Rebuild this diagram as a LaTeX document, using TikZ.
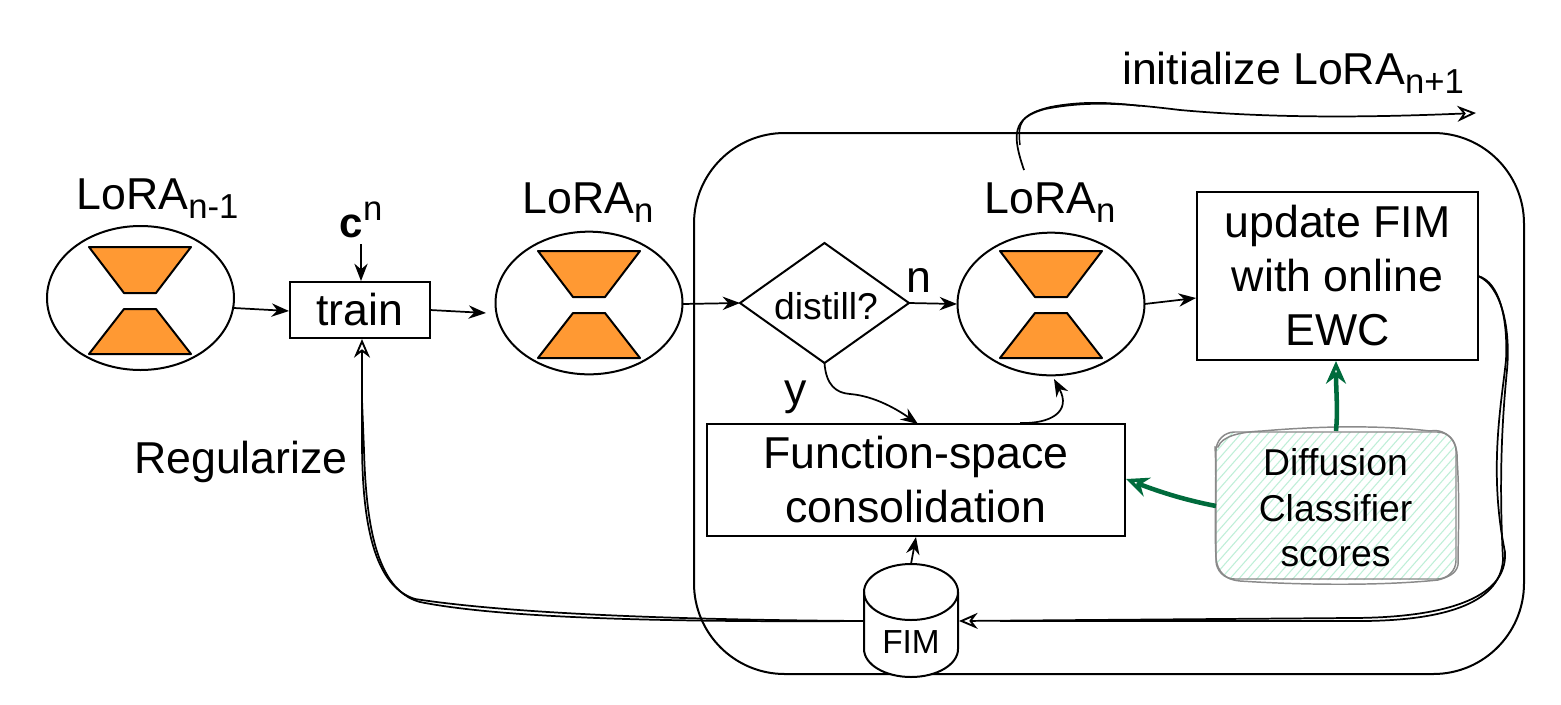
\documentclass[tikz,border=0pt]{standalone}
\usepackage{fontspec}
\setmainfont{Liberation Sans}
\usetikzlibrary{shapes.geometric,arrows.meta}
\definecolor{orfill}{HTML}{FF9933}
\definecolor{grn}{HTML}{006B3C}
\definecolor{hatch}{HTML}{BFEFD8}
\definecolor{sk}{HTML}{8A8A8A}
\newcommand{\fs}[1]{\fontsize{#1}{#1}\selectfont}
\newcommand{\subs}[1]{\raisebox{-0.2em}{\fs{26}#1}}
\newcommand{\hglass}[2]{%
  \draw[trap] (#1-51,#2) -- (#1+51,#2) -- (#1+16,#2+46) -- (#1-16,#2+46) -- cycle;
  \draw[trap] (#1-16,#2+62) -- (#1+16,#2+62) -- (#1+51,#2+107) -- (#1-51,#2+107) -- cycle;}
\tikzset{
  base/.style={line width=1.5pt,draw=black},
  trap/.style={line width=1.5pt,fill=orfill,line join=round},
  boxn/.style={base,rectangle,inner sep=0pt,outer sep=0pt,align=center},
  conn/.style={line width=1.3pt,-{Stealth[length=13pt,width=10pt]}},
  hollow/.style={line width=1.3pt,-{Stealth[open,length=14pt,width=12pt,line width=1.4pt,fill=white]}},
  gconn/.style={line width=3.4pt,grn,-{Stealth[open,length=17pt,width=15pt,line width=2.6pt,fill=white]}},
  sketch/.style={line width=1.1pt,sk},
  bigtext/.style={font=\fontsize{33.5}{40.5}\selectfont},
}
\begin{document}
\begin{tikzpicture}[x=0.75pt,y=-0.75pt]
\useasboundingbox (0,0) rectangle (1561,704);
\fill[white] (0,0) rectangle (1561,704);

% container
\node[base,rectangle,rounded corners=68pt,minimum width=622.5pt,minimum height=405.75pt,inner sep=0pt,outer sep=0pt] (frame) at (1109,403.5) {};

% LoRA ellipses
\node[base,ellipse,minimum width=140.25pt,minimum height=108pt,inner sep=0pt,outer sep=0pt] (e1) at (140.5,298) {};
\node[base,ellipse,minimum width=140.25pt,minimum height=107pt,inner sep=0pt,outer sep=0pt] (e2) at (589,303) {};
\node[base,ellipse,minimum width=140.25pt,minimum height=107pt,inner sep=0pt,outer sep=0pt] (e3) at (1051,304) {};
\hglass{140}{247}
\hglass{589}{251}
\hglass{1051}{251}

\node[inner sep=0pt] (l1) at (157.5,199) {\fs{33.5}LoRA\subs{n-1}};
\node[inner sep=0pt] (l2) at (588,203) {\fs{33.5}LoRA\subs{n}};
\node[inner sep=0pt] (l3) at (1050,203) {\fs{33.5}LoRA\subs{n}};

% boxes
\node[boxn,minimum width=105pt,minimum height=42pt] (train) at (360,310) {\fs{33.5}train};
\node[inner sep=0pt] (cn) at (361,220) {\fs{31.5}\textbf{c}\raisebox{0.42em}{\fs{26}n}};
\node[base,diamond,minimum width=126.75pt,minimum height=90pt,inner sep=0pt,outer sep=0pt] (dist) at (824.5,303) {};
\node[inner sep=0pt] (distt) at (826,306) {\fs{28}distill?};
\node[boxn,bigtext,minimum width=210.75pt,minimum height=126pt] (upd) at (1337.5,276) {update FIM\\with online\\EWC};
\node[boxn,bigtext,minimum width=313.5pt,minimum height=84pt] (func) at (916,480) {Function-space\\consolidation};

% diffusion box: hatch and sketchy outline
\begin{scope}
  \clip[rounded corners=14pt] (1216,432) rectangle (1456,580);
  \foreach \i in {0,9,...,420}{
    \draw[hatch,line width=0.8pt] (1040+\i,590) -- (1190+\i,420);
  }
\end{scope}
\draw[sketch,rounded corners=14pt] (1216,432) rectangle (1456,579);
\draw[sketch] (1218,447) .. controls (1222,436) and (1240,432) .. (1262,431)
  .. controls (1320,426) and (1380,425) .. (1430,431)
  .. controls (1447,428) and (1458,442) .. (1457,458)
  .. controls (1460,500) and (1458,540) .. (1458,565)
  .. controls (1456,574) and (1448,577) .. (1438,580)
  .. controls (1380,586) and (1300,585) .. (1240,581)
  .. controls (1226,580) and (1217,572) .. (1216,558)
  .. controls (1214,520) and (1217,480) .. (1215,447) -- cycle;
\node[inner sep=0pt,align=center,font=\fontsize{28}{34.2}\selectfont] (diff) at (1335.5,508) {Diffusion\\Classifier\\scores};

% FIM
\node[inner sep=0pt,outer sep=0pt,minimum width=70.5pt,minimum height=84.75pt] (fim) at (911,620.5) {};
\draw[base,fill=white] (864,592) -- (864,649) arc[start angle=180,end angle=0,x radius=47,y radius=28] -- (958,592) arc[start angle=0,end angle=-180,x radius=47,y radius=28] -- cycle;
\draw[base] (864,592) arc[start angle=180,end angle=0,x radius=47,y radius=28];
\node[inner sep=0pt] (fimt) at (911,642) {\fs{25}FIM};

% free labels
\node[inner sep=0pt] (init) at (1293,73) {\fs{33.5}initialize LoRA\subs{n+1}};
\node[inner sep=0pt] (reg) at (241,462) {\fs{33.5}Regularize};
\node[inner sep=0pt] (nl) at (919,280) {\fs{33.5}n};
\node[inner sep=0pt] (yl) at (796,397) {\fs{33.5}y};

% named ends
\coordinate (e1out) at (234,308);
\coordinate (trainin) at (289,311);
\coordinate (e2in) at (486,313);
\coordinate (e2out) at (682,304);
\coordinate (e3in) at (957,304);
\coordinate (updin) at (1196,298);
\coordinate (cnout) at (361,244);
\coordinate (trainup) at (361,281);
\coordinate (funcin) at (918,424);
\coordinate (funcout) at (1020,423);
\coordinate (e3low) at (1054,379);
\coordinate (funclow) at (916,537);
\coordinate (fimL) at (864,621);
\coordinate (fimR) at (959,621);
\coordinate (trainlow) at (362,339);
\coordinate (updR) at (1478,276);
\coordinate (updlow) at (1336,361);
\coordinate (lorastart) at (1024,170);
\coordinate (initend) at (1476,113);
\coordinate (diffL) at (1216,506);
\coordinate (funcR) at (1126,479);
\coordinate (diffT) at (1336,431);

% connectors
\draw[conn] (e1out) -- (trainin);
\draw[conn] (train.east) -- (e2in);
\draw[conn] (e2out) -- (dist.west);
\draw[conn] (dist.east) -- (e3in);
\draw[conn] (e3.east) -- (updin);
\draw[conn] (cnout) -- (trainup);
\draw[conn] (dist.south) .. controls (826,385) and (836,393) .. (850,394) .. controls (875,396) and (898,410) .. (funcin);
\draw[conn] (funcout) .. controls (1050,424) and (1072,412) .. (e3low);
\draw[conn] (fim.north) -- (funclow);

% sketchy double connectors
\draw[hollow] (fimL) .. controls (700,620) and (520,615) .. (415,599)
  .. controls (370,585) and (362,510) .. (362,440) -- (trainlow);
\draw[line width=1.3pt] (fimL) .. controls (700,622) and (510,620) .. (420,602)
  .. controls (375,590) and (366,520) .. (364,450) -- (362,400);

\draw[hollow] (updR) .. controls (1500,282) and (1508,320) .. (1506,360)
  .. controls (1502,400) and (1488,470) .. (1505,552)
  .. controls (1508,600) and (1440,618) .. (1350,618)
  -- (fimR);
\draw[line width=1.3pt] (updR) .. controls (1500,285) and (1511,325) .. (1507,370)
  .. controls (1500,440) and (1500,500) .. (1503,560)
  .. controls (1500,605) and (1440,622) .. (1350,621)
  -- (1000,621);

\draw[hollow] (lorastart) .. controls (1012,135) and (1012,118) .. (1045,109)
  .. controls (1090,100) and (1130,104) .. (1180,110)
  .. controls (1280,119) and (1380,117) .. (initend);
\draw[line width=1.1pt] (1020,145) .. controls (1017,122) and (1022,114) .. (1050,107)
  .. controls (1080,101) and (1110,102) .. (1140,106);

% green
\draw[gconn] (diffT) .. controls (1338,410) and (1336,390) .. (updlow);
\draw[gconn] (diffL) .. controls (1185,500) and (1160,492) .. (funcR);
\end{tikzpicture}
\end{document}
